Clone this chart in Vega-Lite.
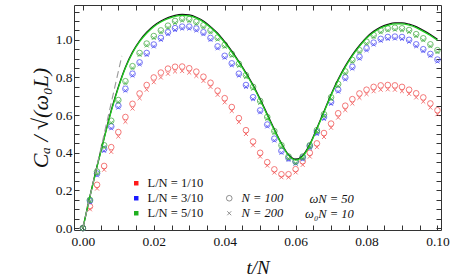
{
  "$schema": "https://vega.github.io/schema/vega-lite/v6.json",
  "width": 367,
  "height": 225,
  "autosize": "none",
  "padding": {"left": 74, "top": 5, "right": 18, "bottom": 49},
  "config": {
    "view": {"stroke": "#333", "strokeWidth": 1},
    "font": "Liberation Serif",
    "axis": {"labelFont": "Liberation Serif", "labelFontSize": 13.5, "labelColor": "#111", "titleFont": "Liberation Serif", "titleColor": "#111", "titleFontWeight": "normal", "tickColor": "#333", "grid": false, "domain": false, "labelOverlap": false, "labelBound": false},
    "legend": {"labelFont": "Liberation Serif", "labelFontSize": 12.5, "labelColor": "#111", "padding": 0}
  },
  "datasets": {
    "pts": [
      {"t":0,"r100":0,"r200":0,"b100":0,"b200":0,"g100":0,"g200":0},
      {"t":0.002,"r100":0.115,"r200":0.1,"b100":0.145,"b200":0.138,"g100":0.15,"g200":0.145},
      {"t":0.004,"r100":0.23,"r200":0.21,"b100":0.29,"b200":0.28,"g100":0.3,"g200":0.29},
      {"t":0.006,"r100":0.33,"r200":0.31,"b100":0.42,"b200":0.41,"g100":0.44,"g200":0.43},
      {"t":0.008,"r100":0.43,"r200":0.405,"b100":0.54,"b200":0.53,"g100":0.57,"g200":0.56},
      {"t":0.01,"r100":0.51,"r200":0.487,"b100":0.65,"b200":0.64,"g100":0.68,"g200":0.67},
      {"t":0.012,"r100":0.59,"r200":0.565,"b100":0.74,"b200":0.73,"g100":0.78,"g200":0.77},
      {"t":0.014,"r100":0.66,"r200":0.635,"b100":0.82,"b200":0.81,"g100":0.86,"g200":0.85},
      {"t":0.016,"r100":0.715,"r200":0.69,"b100":0.88,"b200":0.87,"g100":0.93,"g200":0.92},
      {"t":0.018,"r100":0.76,"r200":0.735,"b100":0.93,"b200":0.92,"g100":0.98,"g200":0.97},
      {"t":0.02,"r100":0.8,"r200":0.775,"b100":0.975,"b200":0.965,"g100":1.02,"g200":1.01},
      {"t":0.022,"r100":0.826,"r200":0.8,"b100":1.01,"b200":1.0,"g100":1.05,"g200":1.04},
      {"t":0.024,"r100":0.847,"r200":0.82,"b100":1.04,"b200":1.03,"g100":1.075,"g200":1.065},
      {"t":0.026,"r100":0.857,"r200":0.832,"b100":1.062,"b200":1.052,"g100":1.1,"g200":1.09},
      {"t":0.028,"r100":0.858,"r200":0.834,"b100":1.07,"b200":1.06,"g100":1.113,"g200":1.103},
      {"t":0.03,"r100":0.849,"r200":0.826,"b100":1.07,"b200":1.06,"g100":1.11,"g200":1.1},
      {"t":0.032,"r100":0.831,"r200":0.808,"b100":1.06,"b200":1.05,"g100":1.096,"g200":1.086},
      {"t":0.034,"r100":0.804,"r200":0.782,"b100":1.04,"b200":1.03,"g100":1.077,"g200":1.067},
      {"t":0.036,"r100":0.772,"r200":0.75,"b100":1.01,"b200":1.0,"g100":1.05,"g200":1.04},
      {"t":0.038,"r100":0.73,"r200":0.708,"b100":0.965,"b200":0.955,"g100":1.012,"g200":1.002},
      {"t":0.04,"r100":0.69,"r200":0.668,"b100":0.915,"b200":0.905,"g100":0.973,"g200":0.963},
      {"t":0.042,"r100":0.643,"r200":0.622,"b100":0.875,"b200":0.865,"g100":0.925,"g200":0.915},
      {"t":0.044,"r100":0.584,"r200":0.563,"b100":0.82,"b200":0.81,"g100":0.872,"g200":0.862},
      {"t":0.046,"r100":0.52,"r200":0.5,"b100":0.76,"b200":0.75,"g100":0.812,"g200":0.802},
      {"t":0.048,"r100":0.46,"r200":0.44,"b100":0.695,"b200":0.685,"g100":0.75,"g200":0.74},
      {"t":0.05,"r100":0.4,"r200":0.38,"b100":0.625,"b200":0.615,"g100":0.675,"g200":0.665},
      {"t":0.052,"r100":0.35,"r200":0.332,"b100":0.55,"b200":0.54,"g100":0.59,"g200":0.58},
      {"t":0.054,"r100":0.312,"r200":0.295,"b100":0.475,"b200":0.465,"g100":0.515,"g200":0.505},
      {"t":0.056,"r100":0.286,"r200":0.27,"b100":0.41,"b200":0.4,"g100":0.44,"g200":0.43},
      {"t":0.058,"r100":0.286,"r200":0.27,"b100":0.372,"b200":0.362,"g100":0.38,"g200":0.37},
      {"t":0.06,"r100":0.313,"r200":0.296,"b100":0.352,"b200":0.342,"g100":0.355,"g200":0.345},
      {"t":0.062,"r100":0.355,"r200":0.336,"b100":0.375,"b200":0.365,"g100":0.38,"g200":0.37},
      {"t":0.064,"r100":0.4,"r200":0.38,"b100":0.435,"b200":0.425,"g100":0.44,"g200":0.43},
      {"t":0.066,"r100":0.45,"r200":0.43,"b100":0.51,"b200":0.5,"g100":0.52,"g200":0.51},
      {"t":0.068,"r100":0.505,"r200":0.484,"b100":0.59,"b200":0.58,"g100":0.605,"g200":0.595},
      {"t":0.07,"r100":0.555,"r200":0.533,"b100":0.67,"b200":0.66,"g100":0.695,"g200":0.685},
      {"t":0.072,"r100":0.61,"r200":0.587,"b100":0.735,"b200":0.725,"g100":0.765,"g200":0.755},
      {"t":0.074,"r100":0.65,"r200":0.627,"b100":0.8,"b200":0.79,"g100":0.832,"g200":0.822},
      {"t":0.076,"r100":0.685,"r200":0.662,"b100":0.857,"b200":0.847,"g100":0.893,"g200":0.883},
      {"t":0.078,"r100":0.715,"r200":0.692,"b100":0.91,"b200":0.9,"g100":0.945,"g200":0.935},
      {"t":0.08,"r100":0.735,"r200":0.712,"b100":0.955,"b200":0.945,"g100":0.99,"g200":0.98},
      {"t":0.082,"r100":0.75,"r200":0.727,"b100":0.985,"b200":0.975,"g100":1.025,"g200":1.015},
      {"t":0.084,"r100":0.758,"r200":0.735,"b100":1.005,"b200":0.995,"g100":1.05,"g200":1.04},
      {"t":0.086,"r100":0.76,"r200":0.737,"b100":1.015,"b200":1.005,"g100":1.06,"g200":1.05},
      {"t":0.088,"r100":0.758,"r200":0.735,"b100":1.017,"b200":1.007,"g100":1.064,"g200":1.054},
      {"t":0.09,"r100":0.75,"r200":0.727,"b100":1.015,"b200":1.005,"g100":1.061,"g200":1.051},
      {"t":0.092,"r100":0.735,"r200":0.713,"b100":1.0,"b200":0.99,"g100":1.052,"g200":1.042},
      {"t":0.094,"r100":0.716,"r200":0.694,"b100":0.976,"b200":0.966,"g100":1.03,"g200":1.02},
      {"t":0.096,"r100":0.694,"r200":0.672,"b100":0.95,"b200":0.94,"g100":1.008,"g200":0.998},
      {"t":0.098,"r100":0.662,"r200":0.64,"b100":0.925,"b200":0.915,"g100":0.976,"g200":0.966},
      {"t":0.1,"r100":0.626,"r200":0.605,"b100":0.895,"b200":0.885,"g100":0.945,"g200":0.935}
    ],
    "keys": [
      {"key":"r100","L":"L/N = 1/10","N":"N = 100"},
      {"key":"r200","L":"L/N = 1/10","N":"N = 200"},
      {"key":"b100","L":"L/N = 3/10","N":"N = 100"},
      {"key":"b200","L":"L/N = 3/10","N":"N = 200"},
      {"key":"g100","L":"L/N = 5/10","N":"N = 100"},
      {"key":"g200","L":"L/N = 5/10","N":"N = 200"}
    ],
    "ratios": [{"ratio":"L/N = 1/10"},{"ratio":"L/N = 3/10"},{"ratio":"L/N = 5/10"}],
    "curve": [
      {"t":0,"k":0,"g":0},{"t":0.002,"k":0.17,"g":0.168},{"t":0.004,"k":0.33,"g":0.327},{"t":0.006,"k":0.48,"g":0.476},
      {"t":0.008,"k":0.625,"g":0.62},{"t":0.01,"k":0.75,"g":0.745},{"t":0.012,"k":0.855,"g":0.85},{"t":0.014,"k":0.935,"g":0.93},
      {"t":0.016,"k":0.995,"g":0.99},{"t":0.018,"k":1.04,"g":1.035},{"t":0.02,"k":1.075,"g":1.07},{"t":0.022,"k":1.1,"g":1.095},
      {"t":0.024,"k":1.118,"g":1.113},{"t":0.026,"k":1.13,"g":1.125},{"t":0.028,"k":1.135,"g":1.13},{"t":0.03,"k":1.132,"g":1.127},
      {"t":0.032,"k":1.12,"g":1.115},{"t":0.034,"k":1.1,"g":1.095},{"t":0.036,"k":1.07,"g":1.065},{"t":0.038,"k":1.035,"g":1.03},
      {"t":0.04,"k":0.99,"g":0.985},{"t":0.042,"k":0.94,"g":0.935},{"t":0.044,"k":0.885,"g":0.88},{"t":0.046,"k":0.825,"g":0.82},
      {"t":0.048,"k":0.76,"g":0.755},{"t":0.05,"k":0.685,"g":0.68},{"t":0.052,"k":0.605,"g":0.6},{"t":0.054,"k":0.525,"g":0.52},
      {"t":0.056,"k":0.45,"g":0.446},{"t":0.058,"k":0.39,"g":0.386},{"t":0.06,"k":0.365,"g":0.361},{"t":0.062,"k":0.385,"g":0.381},
      {"t":0.064,"k":0.445,"g":0.441},{"t":0.066,"k":0.53,"g":0.526},{"t":0.068,"k":0.62,"g":0.615},{"t":0.07,"k":0.71,"g":0.705},
      {"t":0.072,"k":0.79,"g":0.785},{"t":0.074,"k":0.86,"g":0.855},{"t":0.076,"k":0.92,"g":0.915},{"t":0.078,"k":0.97,"g":0.965},
      {"t":0.08,"k":1.013,"g":1.008},{"t":0.082,"k":1.045,"g":1.04},{"t":0.084,"k":1.068,"g":1.063},{"t":0.086,"k":1.082,"g":1.077},
      {"t":0.088,"k":1.09,"g":1.085},{"t":0.09,"k":1.09,"g":1.085},{"t":0.092,"k":1.083,"g":1.078},{"t":0.094,"k":1.07,"g":1.065},
      {"t":0.096,"k":1.05,"g":1.045},{"t":0.098,"k":1.028,"g":1.023},{"t":0.1,"k":1.003,"g":0.998}
    ],
    "lin": [{"t":0,"C":0},{"t":0.011,"C":0.915}],
    "params": [{"label":"ωN = 50","row":"a"},{"label":"ω₀N = 10","row":"b"}]
  },
  "resolve": {"axis": {"x": "independent", "y": "independent"}},
  "layer": [
    {
      "data": {"name": "pts"},
      "transform": [
        {"fold": ["r100","r200","b100","b200","g100","g200"], "as": ["key","C"]},
        {"lookup": "key", "from": {"data": {"name": "keys"}, "key": "key", "fields": ["L","N"]}}
      ],
      "mark": {"type": "point", "filled": false, "strokeWidth": 0.8, "size": 32, "opacity": 0.9},
      "encoding": {
        "x": {"field": "t", "type": "quantitative", "scale": {"domain": [-0.0025, 0.101], "nice": false, "zero": false},
              "axis": {"orient": "bottom", "values": [0,0.005,0.01,0.015,0.02,0.025,0.03,0.035,0.04,0.045,0.05,0.055,0.06,0.065,0.07,0.075,0.08,0.085,0.09,0.095,0.1],
                       "labelExpr": "abs(datum.value*50 - round(datum.value*50)) < 0.001 ? format(datum.value, '.2f') : ''",
                       "title": "t/N", "titleFontSize": 19, "titleFontStyle": "italic", "titlePadding": 11, "tickSize": -5, "labelPadding": 9,
                       "encode": {"ticks": {"update": {"y2": {"signal": "abs(datum.value*50 - round(datum.value*50)) < 0.001 ? -5 : -2.5"}}}}}},
        "y": {"field": "C", "type": "quantitative", "scale": {"domain": [-0.01, 1.185], "nice": false, "zero": false},
              "axis": {"orient": "left", "values": [0,0.05,0.1,0.15,0.2,0.25,0.3,0.35,0.4,0.45,0.5,0.55,0.6,0.65,0.7,0.75,0.8,0.85,0.9,0.95,1.0,1.05,1.1,1.15],
                       "labelExpr": "abs(datum.value*5 - round(datum.value*5)) < 0.001 ? format(datum.value, '.1f') : ''",
                       "title": "Cₐ / √(ω₀L)", "titleFontSize": 22, "titleFontStyle": "italic", "titlePadding": 3, "tickSize": -5, "labelPadding": 7,
                       "encode": {"ticks": {"update": {"x2": {"signal": "abs(datum.value*5 - round(datum.value*5)) < 0.001 ? 5 : 2.5"}}}}}},
        "stroke": {"field": "L", "type": "nominal", "scale": {"range": ["#f04848","#4444f2","#3aaa3a"]}, "legend": null},
        "shape": {"field": "N", "type": "nominal", "scale": {"domain": ["N = 100","N = 200"], "range": ["circle","M-0.7,-0.7L0.7,0.7M0.7,-0.7L-0.7,0.7"]},
                  "legend": {"orient": "none", "legendX": 149, "legendY": 187, "title": null, "symbolSize": 32, "symbolStrokeColor": "#666", "symbolStrokeWidth": 0.8, "rowPadding": 2, "labelOffset": 6, "labelFontStyle": "italic"}}
      }
    },
    {
      "data": {"name": "ratios"},
      "mark": {"type": "square", "filled": true, "clip": true, "size": 20, "opacity": 1},
      "encoding": {
        "x": {"datum": -1, "type": "quantitative", "axis": null},
        "y": {"datum": -1, "type": "quantitative", "axis": null},
        "fill": {"field": "ratio", "type": "nominal", "scale": {"domain": ["L/N = 1/10","L/N = 3/10","L/N = 5/10"], "range": ["#ff1a1a","#1a1aff","#1fb01f"]},
                  "legend": {"orient": "none", "legendX": 56, "legendY": 172, "title": null, "symbolType": "square", "symbolSize": 20, "rowPadding": 2, "labelOffset": 5}}
      }
    },
    {
      "data": {"name": "curve"},
      "mark": {"type": "line", "color": "#111", "strokeWidth": 1.3, "interpolate": "monotone"},
      "encoding": {
        "x": {"field": "t", "type": "quantitative",
              "axis": {"orient": "top", "values": [0,0.005,0.01,0.015,0.02,0.025,0.03,0.035,0.04,0.045,0.05,0.055,0.06,0.065,0.07,0.075,0.08,0.085,0.09,0.095,0.1], "labels": false, "title": null, "tickSize": -5,
                       "encode": {"ticks": {"update": {"y2": {"signal": "abs(datum.value*50 - round(datum.value*50)) < 0.001 ? 5 : 2.5"}}}}}},
        "y": {"field": "k", "type": "quantitative",
              "axis": {"orient": "right", "values": [0,0.05,0.1,0.15,0.2,0.25,0.3,0.35,0.4,0.45,0.5,0.55,0.6,0.65,0.7,0.75,0.8,0.85,0.9,0.95,1.0,1.05,1.1,1.15], "labels": false, "title": null, "tickSize": -5,
                       "encode": {"ticks": {"update": {"x2": {"signal": "abs(datum.value*5 - round(datum.value*5)) < 0.001 ? -5 : -2.5"}}}}}}
      }
    },
    {
      "data": {"name": "curve"},
      "mark": {"type": "line", "color": "#1fcc1f", "strokeWidth": 1.3, "interpolate": "monotone"},
      "encoding": {
        "x": {"field": "t", "type": "quantitative", "axis": null},
        "y": {"field": "g", "type": "quantitative", "axis": null}
      }
    },
    {
      "data": {"name": "lin"},
      "mark": {"type": "line", "color": "#999", "strokeWidth": 1.1, "strokeDash": [7, 4]},
      "encoding": {
        "x": {"field": "t", "type": "quantitative", "axis": null},
        "y": {"field": "C", "type": "quantitative", "axis": null}
      }
    },
    {
      "data": {"name": "params"},
      "transform": [{"filter": "datum.row === 'a'"}],
      "mark": {"type": "text", "align": "right", "baseline": "middle", "font": "Liberation Serif", "fontSize": 12.5, "fontStyle": "italic", "color": "#111"},
      "encoding": {
        "x": {"datum": 0.0764, "type": "quantitative", "axis": null},
        "y": {"datum": 0.155, "type": "quantitative", "axis": null},
        "text": {"field": "label"}
      }
    },
    {
      "data": {"name": "params"},
      "transform": [{"filter": "datum.row === 'b'"}],
      "mark": {"type": "text", "align": "right", "baseline": "middle", "font": "Liberation Serif", "fontSize": 12.5, "fontStyle": "italic", "color": "#111"},
      "encoding": {
        "x": {"datum": 0.0764, "type": "quantitative", "axis": null},
        "y": {"datum": 0.076, "type": "quantitative", "axis": null},
        "text": {"field": "label"}
      }
    }
  ]
}
